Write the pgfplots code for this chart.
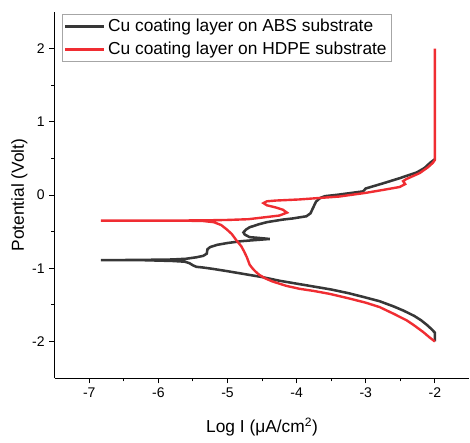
\documentclass[border=0pt]{standalone}
\usepackage{fontspec}
\setmainfont{Liberation Sans}
\usepackage{pgfplots}
\pgfplotsset{compat=1.18}
\definecolor{absgray}{RGB}{55,55,55}
\definecolor{hdpered}{RGB}{240,45,50}
\begin{document}
\begin{tikzpicture}
\begin{axis}[
  scale only axis,
  width=311pt, height=274.5pt,
  xmin=-7.5, xmax=-1.5, ymin=-2.5, ymax=2.5,
  axis lines=left,
  axis line style={-, line width=0.8pt},
  tick align=outside,
  tick style={black, line width=0.8pt},
  major tick length=4pt, minor tick length=2.5pt,
  xtick={-7,-6,-5,-4,-3,-2}, ytick={-2,-1,0,1,2},
  minor x tick num=1, minor y tick num=1,
  /pgf/number format/assume math mode=true,
  ticklabel style={font=\fontsize{10.5}{12}\selectfont},
  xlabel={Log I (μA/cm\textsuperscript{2})},
  ylabel={Potential (Volt)},
  label style={font=\fontsize{13}{15}\selectfont},
  xlabel style={at={(axis description cs:0.5,-0.134)}, anchor=center},
  ylabel style={at={(axis description cs:-0.085,0.5)}, anchor=center},
  legend style={at={(0.017,0.995)}, anchor=north west, draw=gray!70, line width=0.6pt,
    font=\fontsize{13}{15.5}\selectfont, inner sep=1.5pt, row sep=2.5pt},
  legend cell align=left,
  legend image code/.code={\draw[#1, line width=2pt] (0pt,0pt) -- (29pt,0pt);},
]
\addplot[absgray, line width=1.9pt] table {
x y
-2.0 -2.0
-2.0 -1.88
-2.05 -1.83
-2.12 -1.77
-2.2 -1.71
-2.3 -1.65
-2.45 -1.58
-2.6 -1.52
-2.8 -1.45
-3.0 -1.40
-3.25 -1.34
-3.5 -1.29
-3.75 -1.25
-4.0 -1.21
-4.25 -1.17
-4.5 -1.12
-4.75 -1.08
-5.0 -1.04
-5.2 -1.01
-5.35 -0.99
-5.45 -0.98
-5.5 -0.96
-5.55 -0.93
-5.62 -0.91
-5.8 -0.90
-6.2 -0.89
-6.83 -0.89
-6.2 -0.885
-5.8 -0.88
-5.6 -0.87
-5.45 -0.85
-5.35 -0.83
-5.3 -0.80
-5.29 -0.74
-5.25 -0.71
-5.15 -0.68
-5.0 -0.655
-4.8 -0.63
-4.6 -0.615
-4.39 -0.60
-4.55 -0.585
-4.68 -0.575
-4.75 -0.54
-4.77 -0.51
-4.73 -0.47
-4.68 -0.44
-4.55 -0.40
-4.43 -0.37
-4.2 -0.335
-4.06 -0.32
-3.86 -0.29
-3.80 -0.25
-3.76 -0.17
-3.72 -0.09
-3.66 -0.04
-3.59 -0.015
-3.4 0.005
-3.2 0.03
-3.04 0.05
-3.0 0.09
-2.75 0.16
-2.51 0.23
-2.26 0.31
-2.15 0.37
-2.07 0.44
-2.0 0.49
};
\addlegendentry{Cu coating layer on ABS substrate}
\addplot[hdpered, line width=1.8pt] table {
x y
-2.0 -2.0
-2.07 -1.95
-2.17 -1.87
-2.3 -1.78
-2.41 -1.71
-2.6 -1.62
-2.8 -1.53
-3.0 -1.47
-3.25 -1.41
-3.52 -1.35
-3.75 -1.31
-3.96 -1.28
-4.15 -1.24
-4.35 -1.18
-4.45 -1.14
-4.54 -1.09
-4.6 -1.04
-4.64 -1.0
-4.68 -0.95
-4.72 -0.85
-4.76 -0.77
-4.8 -0.70
-4.87 -0.62
-4.94 -0.53
-5.01 -0.47
-5.09 -0.41
-5.2 -0.37
-5.35 -0.355
-5.6 -0.35
-6.2 -0.35
-6.83 -0.35
-6.0 -0.35
-5.3 -0.345
-5.0 -0.34
-4.7 -0.33
-4.43 -0.30
-4.25 -0.28
-4.14 -0.24
-4.2 -0.20
-4.3 -0.17
-4.43 -0.14
-4.48 -0.11
-4.43 -0.085
-4.3 -0.075
-3.96 -0.06
-3.67 -0.04
-3.38 -0.02
-3.23 0.0
-3.0 0.03
-2.75 0.07
-2.51 0.11
-2.43 0.15
-2.46 0.19
-2.41 0.22
-2.22 0.30
-2.1 0.38
-2.03 0.44
-2.0 0.48
-2.0 2.0
};
\addlegendentry{Cu coating layer on HDPE substrate}
\end{axis}
\path (current axis.north west) ++(-41pt,9pt);
\path (current axis.south west) ++(0,-48pt);
\end{tikzpicture}
\end{document}
